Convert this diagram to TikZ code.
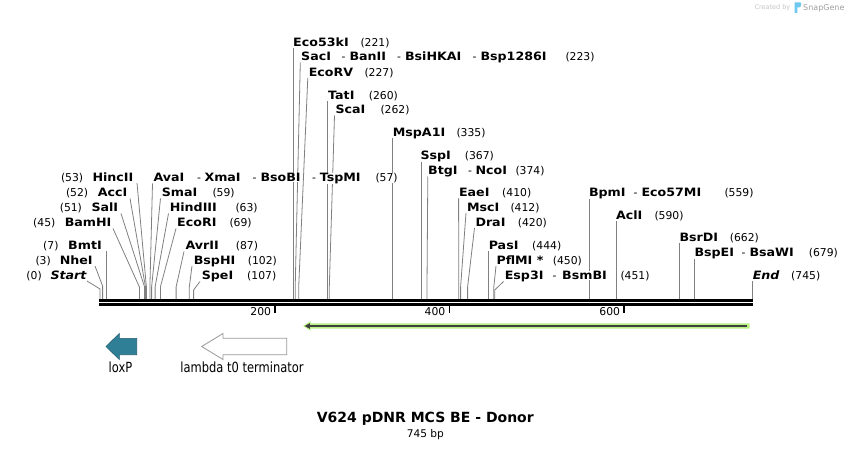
\documentclass[tikz,border=0pt]{standalone}
\usepackage{fontspec}
\setmainfont{DejaVu Sans}
\newfontfamily\condfont[FakeStretch=0.82]{DejaVu Sans}
\newfontfamily\labfont[FakeStretch=1.1]{DejaVu Sans}
\usetikzlibrary{arrows.meta}
\definecolor{lc}{RGB}{128,128,128}
\definecolor{loxc}{RGB}{47,127,150}
\definecolor{grn}{RGB}{184,240,130}
\definecolor{dk}{RGB}{64,64,64}
\definecolor{logoc}{RGB}{110,200,240}
\tikzset{
 nm/.style={anchor=base west, inner sep=0.3pt, fill=white, font=\labfont\bfseries\fontsize{11.5}{13}\selectfont},
 itl/.style={nm, font=\labfont\bfseries\itshape\fontsize{11.5}{13}\selectfont},
 nb/.style={anchor=base west, inner sep=0.3pt, fill=white, font=\fontsize{10.8}{13}\selectfont},
 cutl/.style={draw=lc, line width=0.8pt},
 featlab/.style={anchor=base, inner sep=0pt, font=\condfont\fontsize{14}{16}\selectfont},
}
\newcommand{\NM}[4]{\node[nm] (#1) at (#2,#3) {#4};}
\newcommand{\NB}[4]{\node[nb] (#1) at (#2,#3) {#4};}
\begin{document}
\begin{tikzpicture}[x=1pt,y=-1pt]
\path[use as bounding box, fill=white] (0,0) rectangle (852,449);

% ---------- cut lines ----------
\draw[cutl] (137,183)--(146.4,287)--(146.4,299);
\draw[cutl] (130,198.5)--(145.5,287)--(145.5,299);
\draw[cutl] (121,213.5)--(144.6,287)--(144.6,299);
\draw[cutl] (113,228.5)--(139.4,287)--(139.4,299);
\draw[cutl] (106.1,251)--(106.1,299);
\draw[cutl] (95,266)--(102.6,286)--(102.6,299);
\draw[cutl] (87,281)--(100,289)--(100,299);
\draw[cutl] (152.5,183.5)--(149.9,287)--(149.9,299);
\draw[cutl] (160.5,198.5)--(151.6,287)--(151.6,299);
\draw[cutl] (168.5,213.5)--(155.1,287)--(155.1,299);
\draw[cutl] (176,228.5)--(160.4,287)--(160.4,299);
\draw[cutl] (184,251.5)--(176.1,287)--(176.1,299);
\draw[cutl] (192,266)--(189.3,287)--(189.3,299);
\draw[cutl] (200,281.5)--(193.6,290)--(193.6,299);
\draw[cutl] (293.2,48)--(293.2,299);
\draw[cutl] (300.3,62.5)--(295.2,287)--(295.2,299);
\draw[cutl] (307.8,78)--(298.7,287)--(298.7,299);
\draw[cutl] (327.7,101)--(327.7,299);
\draw[cutl] (334.5,115.5)--(329.3,287)--(329.3,299);
\draw[cutl] (392.7,138)--(392.7,299);
\draw[cutl] (421,161.5)--(421,299);
\draw[cutl] (427.8,176.5)--(427,287)--(427,299);
\draw[cutl] (458.6,198.5)--(458.8,299);
\draw[cutl] (466,213)--(460.6,287)--(460.6,299);
\draw[cutl] (474.5,228)--(467.6,287)--(467.6,299);
\draw[cutl] (488.6,251)--(488.6,299);
\draw[cutl] (496,266)--(493.8,287)--(493.8,299);
\draw[cutl] (503.5,281.5)--(494.7,290)--(494.7,299);
\draw[cutl] (589.2,198.5)--(589.2,299);
\draw[cutl] (616.4,221)--(616.4,299);
\draw[cutl] (679.4,243)--(679.4,299);
\draw[cutl] (694.3,258)--(694.3,299);
\draw[cutl] (752.3,281.5)--(752.3,299);

% ---------- sequence ----------
\draw[line width=2.6pt] (99.3,300.3) -- (752.7,300.3);
\draw[line width=2.4pt] (99.3,304.5) -- (752.7,304.5);
\draw[line width=1.6pt] (274.8,305.5) -- (274.8,313);
\draw[line width=1.6pt] (449.3,305.5) -- (449.3,313);
\draw[line width=1.6pt] (624.2,305.5) -- (624.2,313);
\node[nb, anchor=base east, fill=none] (t200) at (271.5,315.6) {200};
\node[nb, anchor=base east, fill=none] (t400) at (445.8,315.6) {400};
\node[nb, anchor=base east, fill=none] (t600) at (620.6,315.6) {600};

% ---------- labels ----------
\NM{eco53}{292.7}{46.7}{Eco53kI} \NB{n221}{360}{46.7}{(221)}
\NM{sac}{300.7}{60.7}{SacI} \NB{da1}{341}{60.7}{-} \NM{ban}{349}{60.7}{BanII}
\NB{da2}{396.5}{60.7}{-} \NM{bsihk}{404.5}{60.7}{BsiHKAI} \NB{da3}{472}{60.7}{-}
\NM{bsp1286}{480}{60.7}{Bsp1286I} \NB{n223}{565}{60.7}{(223)}
\NM{ecorv}{308.3}{76.2}{EcoRV} \NB{n227}{364}{76.2}{(227)}
\NM{tat}{327.7}{99.2}{TatI} \NB{n260}{368.3}{99.2}{(260)}
\NM{sca}{335}{113.7}{ScaI} \NB{n262}{380}{113.7}{(262)}
\NM{mspa}{392.3}{136.2}{MspA1I} \NB{n335}{456}{136.2}{(335)}
\NM{ssp}{420}{159.7}{SspI} \NB{n367}{464.3}{159.7}{(367)}
\NM{btg}{427.7}{174.7}{BtgI} \NB{db1}{467.7}{174.7}{-} \NM{nco}{475}{174.7}{NcoI} \NB{n374}{515}{174.7}{(374)}

\NB{n53}{60.5}{181.2}{(53)} \NM{hinc}{92}{181.2}{HincII}
\NM{ava}{153}{181.2}{AvaI} \NB{dc1}{196.5}{181.2}{-} \NM{xma}{204}{181.2}{XmaI}
\NB{dc2}{252}{181.2}{-} \NM{bso}{260}{181.2}{BsoBI} \NB{dc3}{311.5}{181.2}{-}
\NM{tsp}{319.3}{181.2}{TspMI} \NB{n57}{375}{181.2}{(57)}

\NB{n52}{65.5}{196.7}{(52)} \NM{acc}{97.3}{196.7}{AccI}
\NM{sma}{161.3}{196.7}{SmaI} \NB{n59}{212}{196.7}{(59)}
\NM{eae}{458.5}{196.7}{EaeI} \NB{n410}{501.7}{196.7}{(410)}
\NM{bpm}{588.5}{196.7}{BpmI} \NB{dd1}{633}{196.7}{-} \NM{eco57}{641}{196.7}{Eco57MI} \NB{n559}{724}{196.7}{(559)}

\NB{n51}{59.3}{211.2}{(51)} \NM{sal}{91}{211.2}{SalI}
\NM{hind}{169.3}{211.2}{HindIII} \NB{n63}{235}{211.2}{(63)}
\NM{msc}{466.5}{211.2}{MscI} \NB{n412}{510}{211.2}{(412)}

\NM{acl}{615.5}{219.2}{AclI} \NB{n590}{654}{219.2}{(590)}

\NB{n45}{32.7}{226.2}{(45)} \NM{bam}{64.3}{226.2}{BamHI}
\NM{ecori}{176.7}{226.2}{EcoRI} \NB{n69}{229}{226.2}{(69)}
\NM{dra}{475}{226.2}{DraI} \NB{n420}{517.3}{226.2}{(420)}

\NM{bsrd}{679}{241.2}{BsrDI} \NB{n662}{729.3}{241.2}{(662)}

\NB{n7}{42.7}{249.2}{(7)} \NM{bmt}{67.7}{249.2}{BmtI}
\NM{avr}{185}{249.2}{AvrII} \NB{n87}{235.3}{249.2}{(87)}
\NM{pas}{488.3}{249.2}{PasI} \NB{n444}{531.7}{249.2}{(444)}

\NM{bspe}{694}{256.2}{BspEI} \NB{de1}{741}{256.2}{-} \NM{bsaw}{749}{256.2}{BsaWI} \NB{n679}{808.3}{256.2}{(679)}

\NB{n3}{35}{264.2}{(3)} \NM{nhe}{59.3}{264.2}{NheI}
\NM{bsph}{193.3}{264.2}{BspHI} \NB{n102}{247.3}{264.2}{(102)}
\NM{pflm}{496}{264.2}{PflMI *} \NB{n450}{552.3}{264.2}{(450)}

\NB{n0}{26}{279.7}{(0)} \node[itl] (start) at (50,279.7) {Start};
\NM{spe}{201.3}{279.7}{SpeI} \NB{n107}{246.7}{279.7}{(107)}
\NM{esp3}{504.3}{279.7}{Esp3I} \NB{df1}{552}{279.7}{-} \NM{bsmb}{561.7}{279.7}{BsmBI} \NB{n451}{620}{279.7}{(451)}
\node[itl] (endl) at (752.3,279.7) {End}; \NB{n745}{790.7}{279.7}{(745)}

% ---------- features ----------
\fill[grn] (303,326) -- (310.5,321.3) -- (310.5,323.3) -- (749.5,323.3) -- (749.5,328.7) -- (310.5,328.7) -- (310.5,330.7) -- cycle;
\draw[dk, line width=2.2pt] (746.7,326) -- (308,326);
\fill[dk] (304.8,326) -- (309.8,323.2) -- (309.8,328.8) -- cycle;

\filldraw[fill=loxc, draw=loxc!75!black, line width=0.6pt]
 (106,346.5) -- (119.3,333.5) -- (119.3,338.3) -- (136.7,338.3) -- (136.7,354.7) -- (119.3,354.7) -- (119.3,359.5) -- cycle;
\filldraw[fill=white, draw=gray!80, line width=0.8pt]
 (201.7,346.5) -- (223,333.5) -- (223,338.3) -- (286.7,338.3) -- (286.7,354.7) -- (223,354.7) -- (223,359.5) -- cycle;
\node[featlab] (loxp) at (120.5,372) {loxP};
\node[featlab] (lambda) at (242,372) {lambda t0 terminator};

% ---------- title ----------
\node[anchor=base, inner sep=0pt, font=\bfseries\fontsize{14}{16}\selectfont] (title) at (425.3,422.4) {V624 pDNR MCS BE - Donor};
\node[anchor=base, inner sep=0pt, font=\fontsize{10.6}{12}\selectfont] (len) at (425.3,437.2) {745 bp};

% ---------- watermark ----------
\node[anchor=base east, inner sep=0pt, text=gray!45, font=\fontsize{6.5}{8}\selectfont] (created) at (790.5,10) {Created by};
\fill[logoc] (794.5,2.5) -- (800.5,2.5) .. controls (801.5,2.5) and (801.5,7.5) .. (799,7.5) -- (797.3,7.5) -- (797.3,13) -- (794.5,13) -- cycle;
\node[anchor=base west, inner sep=0pt, text=gray!75, font=\fontsize{8}{9}\selectfont] (snap) at (803,11) {SnapGene};
\end{tikzpicture}
\end{document}
